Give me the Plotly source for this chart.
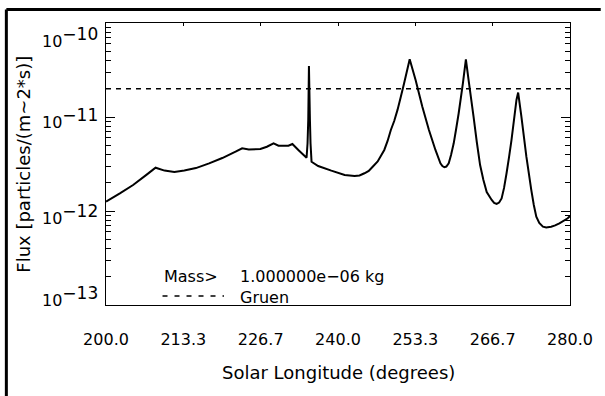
import numpy as np
import plotly.graph_objects as go

# ---- data ----
solar_longitude = [
    200.00, 202.39, 204.67, 206.96, 208.55, 210.09, 211.79, 213.50, 215.50, 217.78,
    220.05, 222.34, 223.47, 224.62, 226.62, 227.74, 228.89, 229.74, 231.45, 232.14,
    233.16, 234.58, 234.75, 234.87, 234.99, 235.16, 235.26, 235.44, 236.58, 238.85,
    241.15, 242.86, 243.71, 244.56, 245.30, 245.98, 246.84, 247.98, 248.55, 249.11,
    249.69, 250.26, 250.82, 251.40, 252.36,
    253.38, 254.53, 255.68, 256.80, 257.66, 258.00, 258.34, 258.68, 259.09, 259.49,
    259.95, 260.34, 260.80, 261.54, 262.05, 262.51, 263.37, 263.93, 264.50, 265.07,
    265.64, 266.50, 266.92, 267.35, 267.78, 268.21, 268.63, 269.06, 269.49, 269.91,
    270.77, 271.06, 271.62, 272.48, 273.33, 273.76, 274.19, 274.70, 275.33, 275.90,
    276.75, 277.44, 278.17, 279.61, 280.00,
]
flux = [
    1.26e-12, 1.54e-12, 1.89e-12, 2.42e-12, 2.89e-12, 2.69e-12, 2.60e-12, 2.69e-12, 2.86e-12, 3.21e-12,
    3.66e-12, 4.28e-12, 4.65e-12, 4.51e-12, 4.57e-12, 4.83e-12, 5.25e-12, 4.95e-12, 4.95e-12, 5.16e-12,
    4.46e-12, 3.69e-12, 5.25e-12, 9.29e-12, 3.49e-11, 9.29e-12, 5.28e-12, 3.34e-12, 3.01e-12, 2.69e-12,
    2.42e-12, 2.36e-12, 2.39e-12, 2.52e-12, 2.67e-12, 2.96e-12, 3.36e-12, 4.46e-12, 5.56e-12, 7.28e-12,
    9.06e-12, 1.19e-11, 1.63e-11, 2.29e-11, 4.11e-11,
    2.48e-11, 1.29e-11, 7.28e-12, 4.46e-12, 3.21e-12, 3.01e-12, 2.92e-12, 2.97e-12, 3.21e-12, 3.94e-12,
    5.25e-12, 7.28e-12, 1.09e-11, 2.29e-11, 4.11e-11, 2.48e-11, 1.01e-11, 5.42e-12, 3.08e-12, 2.14e-12,
    1.59e-12, 1.31e-12, 1.22e-12, 1.19e-12, 1.23e-12, 1.36e-12, 1.76e-12, 2.52e-12, 3.75e-12, 5.69e-12,
    1.52e-11, 1.82e-11, 1.01e-11, 3.78e-12, 1.67e-12, 1.16e-12, 8.69e-13, 7.45e-13, 6.81e-13, 6.67e-13,
    6.81e-13, 7.02e-13, 7.40e-13, 8.36e-13, 8.85e-13,
]
gruen_longitude = [200.0, 280.0]
gruen_flux = [2.0e-11, 2.0e-11]

x_tick_values = [200.0, 213.333, 226.667, 240.0, 253.333, 266.667, 280.0]
x_tick_labels = ["200.0", "213.3", "226.7", "240.0", "253.3", "266.7", "280.0"]
y_tick_values = [1e-13, 1e-12, 1e-11, 1e-10]
y_tick_labels = ["10<sup><span style='font-size:17px'>\u221213</span></sup>",
                 "10<sup><span style='font-size:17px'>\u221212</span></sup>",
                 "10<sup><span style='font-size:17px'>\u221211</span></sup>",
                 "10<sup><span style='font-size:17px'>\u221210</span></sup>"]
y_label_shift = [9, -3, -1, -14]
y_minor_values = [k * 10.0 ** e for e in (-13, -12, -11) for k in range(2, 10)]

x_title = "Solar Longitude (degrees)"
y_title = "Flux [particles/(m~2*s)]"
legend_mass_key = "Mass>"
legend_mass_value = "1.000000e\u221206 kg"
legend_gruen = "Gruen"

FONT = "DejaVu Sans"

fig = go.Figure()
fig.add_trace(go.Scatter(
    x=solar_longitude, y=flux, mode="lines",
    line=dict(color="black", width=2, simplify=False),
    showlegend=False, hoverinfo="skip",
))
fig.add_trace(go.Scatter(
    x=gruen_longitude, y=gruen_flux, mode="lines", xaxis="x2",
    line=dict(color="black", width=1.5, dash="5px,5px"),
    showlegend=False, hoverinfo="skip",
))

annotations = []
for v, t, s in zip(y_tick_values, y_tick_labels, y_label_shift):
    annotations.append(dict(
        x=-0.013, xref="paper", y=np.log10(v), yref="y", yshift=s,
        text=t, showarrow=False, xanchor="right", yanchor="middle",
        font=dict(family=FONT, size=16, color="black"),
    ))
legend_split = (305 - 286.5) / 282.0
annotations += [
    dict(x=-0.1795, xref="paper", y=0.5, yref="paper", text=y_title,
         textangle=-90, showarrow=False, xanchor="center", yanchor="middle",
         font=dict(family=FONT, size=18, color="black")),
    dict(x=0.5, xref="paper", y=-0.241, yref="paper", text=x_title,
         showarrow=False, xanchor="center", yanchor="middle",
         font=dict(family=FONT, size=18, color="black")),
    dict(x=0.1218, xref="paper", y=legend_split, yref="paper", text=legend_mass_key,
         showarrow=False, xanchor="left", yanchor="bottom", borderpad=0,
         font=dict(family=FONT, size=16, color="black")),
    dict(x=0.2863, xref="paper", y=legend_split, yref="paper", text=legend_mass_value,
         showarrow=False, xanchor="left", yanchor="bottom", borderpad=0,
         font=dict(family=FONT, size=16, color="black")),
    dict(x=0.2863, xref="paper", y=legend_split, yref="paper", text=legend_gruen,
         showarrow=False, xanchor="left", yanchor="top", borderpad=0,
         font=dict(family=FONT, size=16, color="black")),
]

frame_left = (5.5 - 106) / 468.0
frame_top = (305 - 9.5) / 282.0
frame_right = (605 - 106) / 468.0
frame_bottom = (305 - 396) / 282.0

shapes = [
    # legend dash sample
    dict(type="line", xref="paper", yref="paper", x0=0.1218, x1=0.2543, y0=0.032, y1=0.032,
         line=dict(color="black", width=1.5, dash="5px,7px")),
    # outer frame (left and top edges visible)
    dict(type="line", xref="paper", yref="paper", x0=frame_left, x1=frame_left,
         y0=frame_bottom, y1=frame_top, line=dict(color="black", width=3)),
    dict(type="line", xref="paper", yref="paper", x0=frame_left, x1=frame_right,
         y0=frame_top, y1=frame_top, line=dict(color="black", width=3)),
]

fig.update_layout(
    width=605, height=396, autosize=False,
    margin=dict(l=106, r=31, t=23, b=91, pad=0),
    paper_bgcolor="white", plot_bgcolor="white",
    font=dict(family=FONT, size=16, color="black"),
    showlegend=False,
    xaxis=dict(
        range=[200, 280], showgrid=False, zeroline=False,
        showline=True, linecolor="black", linewidth=1,
        tickmode="array", tickvals=x_tick_values, ticktext=x_tick_labels,
        ticks="", tickfont=dict(family=FONT, size=16, color="black"),
        ticklabelstandoff=20,
    ),
    xaxis2=dict(
        range=[200, 280], overlaying="x", side="top", anchor="y",
        showgrid=False, zeroline=False, showline=True, linecolor="black", linewidth=1,
        tickmode="array", tickvals=x_tick_values, ticks="inside", ticklen=3,
        tickcolor="black", showticklabels=False,
    ),
    yaxis=dict(
        type="log", range=[-13, -10], showgrid=False, zeroline=False,
        showline=True, linecolor="black", linewidth=1, mirror="ticks",
        tickmode="array", tickvals=y_tick_values, showticklabels=False,
        ticks="inside", ticklen=9, tickcolor="black",
        minor=dict(tickmode="array", tickvals=y_minor_values, ticks="inside",
                   ticklen=5, tickcolor="black"),
    ),
    annotations=annotations,
    shapes=shapes,
)

fig.write_html(
    "out.html",
    config={"displayModeBar": False, "staticPlot": True},
    post_script=("document.body.style.margin='0px';document.body.style.overflow='hidden';"
                 "document.documentElement.style.overflow='hidden';"),
)
